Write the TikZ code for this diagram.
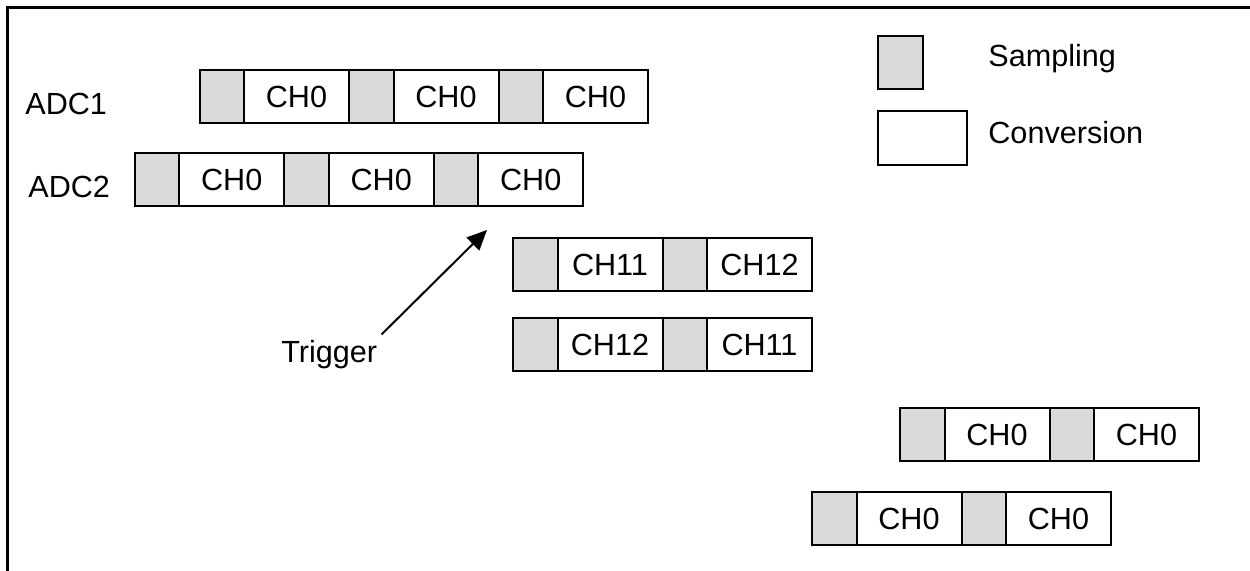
\documentclass[tikz,border=0pt]{standalone}
\usepackage{fontspec}
\setmainfont{Liberation Sans}
\usetikzlibrary{arrows.meta,positioning}
\definecolor{adcgrey}{HTML}{D9D9D9}
\tikzset{
  samp/.style={draw, line width=1pt, fill=adcgrey, minimum width=22.25pt,
               minimum height=26.75pt, inner sep=0pt, outer sep=0pt},
  conv/.style={draw, line width=1pt, fill=white, minimum width=52.5pt,
               minimum height=26.75pt, inner sep=0pt, outer sep=0pt},
  lbl/.style={inner sep=0pt, anchor=base west},
  trig/.style={-{Triangle[length=10pt,width=9pt]}, line width=1pt},
}

\begin{document}
\begin{tikzpicture}[x=0.5pt, y=-0.5pt, node distance=0pt,
                    font=\fontsize{15.3}{18}\selectfont]
\useasboundingbox (0,0) rectangle (1250,571);
\draw[line width=1.5pt] (7,571) -- (7,8) -- (1250,8);
% legend
\node[samp, anchor=north west, minimum width=22.5pt, minimum height=26.5pt] (legs) at (878,36) {};
\node[conv, anchor=north west, minimum width=44.5pt, minimum height=27pt] (legc) at (878,111) {};
\node[lbl] (legst) at (988,67) {Sampling};
\node[lbl] (legct) at (988,144) {Conversion};
% ADC1
\node[lbl] (adc1) at (25,115) {ADC1};
\node[samp, anchor=north west] (a1s1) at (199.5,70) {};
\node[conv, right=of a1s1] (a1c1) {CH0};
\node[samp, right=of a1c1] (a1s2) {};
\node[conv, right=of a1s2] (a1c2) {CH0};
\node[samp, right=of a1c2] (a1s3) {};
\node[conv, right=of a1s3] (a1c3) {CH0};
% ADC2
\node[lbl] (adc2) at (28,198) {ADC2};
\node[samp, anchor=north west] (a2s1) at (134.7,153) {};
\node[conv, right=of a2s1] (a2c1) {CH0};
\node[samp, right=of a2c1] (a2s2) {};
\node[conv, right=of a2s2] (a2c2) {CH0};
\node[samp, right=of a2c2] (a2s3) {};
\node[conv, right=of a2s3] (a2c3) {CH0};
% injected channels
\node[samp, anchor=north west] (i1s1) at (513,238) {};
\node[conv, right=of i1s1] (i1c1) {CH11};
\node[samp, right=of i1c1] (i1s2) {};
\node[conv, right=of i1s2] (i1c2) {CH12};
\node[samp, anchor=north west] (i2s1) at (513,318) {};
\node[conv, right=of i2s1] (i2c1) {CH12};
\node[samp, right=of i2c1] (i2s2) {};
\node[conv, right=of i2s2] (i2c2) {CH11};
% resumed
\node[samp, anchor=north west] (r1s1) at (900,408) {};
\node[conv, right=of r1s1] (r1c1) {CH0};
\node[samp, right=of r1c1] (r1s2) {};
\node[conv, right=of r1s2] (r1c2) {CH0};
\node[samp, anchor=north west] (r2s1) at (812,492) {};
\node[conv, right=of r2s1] (r2c1) {CH0};
\node[samp, right=of r2c1] (r2s2) {};
\node[conv, right=of r2s2] (r2c2) {CH0};
% trigger
\node[lbl] (trg) at (281,363) {Trigger};
\coordinate (trgtip) at (487,230);
\draw[trig] ([shift={(4,-6)}]trg.north east) -- (trgtip);
\end{tikzpicture}
\end{document}
